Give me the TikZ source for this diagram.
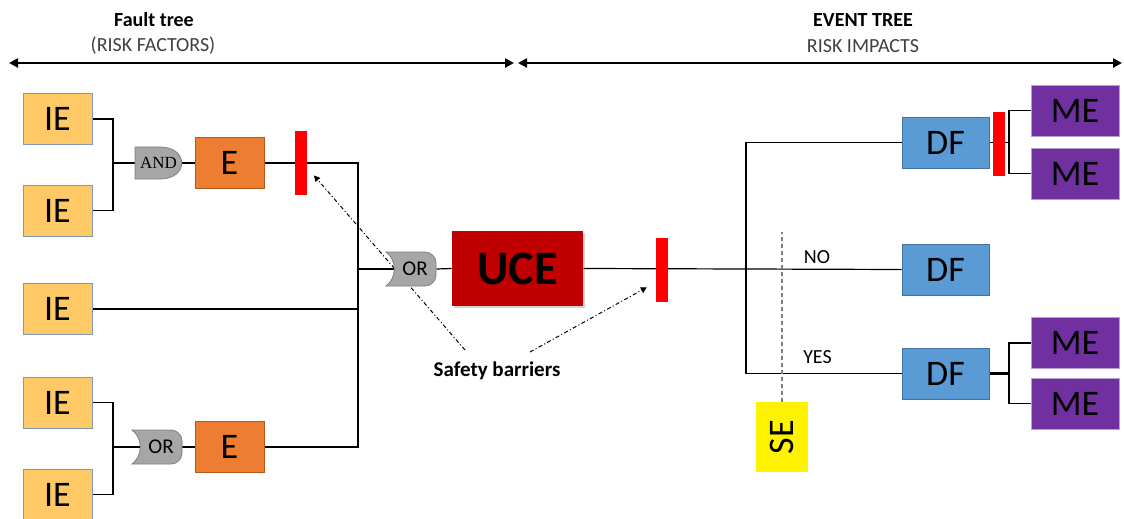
\documentclass[tikz,border=0pt]{standalone}
\usepackage{graphicx}
\usepackage{fontspec}
\setmainfont{Carlito}
\newfontfamily\gatefont{Liberation Serif}
\usetikzlibrary{arrows.meta, backgrounds, shadows, calc}

\definecolor{iefill}{HTML}{FFCA66}
\definecolor{ieline}{HTML}{7F9AB8}
\definecolor{efill}{HTML}{ED7D31}
\definecolor{eline}{HTML}{B15B1E}
\definecolor{ucefill}{HTML}{C00000}
\definecolor{dffill}{HTML}{5B9BD5}
\definecolor{dfline}{HTML}{41719C}
\definecolor{mefill}{HTML}{7030A0}
\definecolor{meline}{HTML}{B4A0CC}
\definecolor{gatefill}{HTML}{A6A6A6}
\definecolor{gateline}{HTML}{7F7F7F}
\definecolor{subgray}{HTML}{404040}

\begin{document}
\begin{tikzpicture}[
    x=0.5pt, y=-0.5pt,
    box/.style={
        rectangle,
        inner sep=0pt,
        minimum height=25.5pt,
        font=\fontsize{18}{18}\selectfont
    },
    ie/.style={box, fill=iefill, draw=ieline, line width=0.4pt, minimum width=34.5pt},
    ev/.style={box, fill=efill, draw=eline, line width=0.4pt, minimum width=34.5pt},
    df/.style={box, fill=dffill, draw=dfline, line width=0.4pt, minimum width=43.5pt},
    me/.style={box, fill=mefill, draw=meline, line width=0.4pt, minimum width=44pt},
    barrier/.style={rectangle, fill=red, inner sep=0pt, minimum width=6pt, minimum height=32pt},
    gatetext/.style={inner sep=0pt, minimum height=16.5pt, font=\fontsize{10.5}{10.5}\selectfont},
    gate/.style={fill=gatefill, draw=gateline, line width=0.4pt},
    link/.style={draw, line width=0.6pt},
    span/.style={{Triangle[length=4.5pt,width=4.5pt]}-{Triangle[length=4.5pt,width=4.5pt]}, line width=1.4pt},
    hint/.style={-{Triangle[length=3pt,width=3pt]}, line width=0.5pt,
        dash pattern=on 2pt off 1.2pt on 0.5pt off 1.2pt},
    heading/.style={font=\fontsize{10}{12}\selectfont\bfseries},
    subheading/.style={font=\fontsize{10}{12}\selectfont, text=subgray},
    branch/.style={font=\fontsize{10}{12}\selectfont}
]
\useasboundingbox (0,0) rectangle (1124,519);

% Headings
\node[heading] (ftname) at (154,20) {Fault tree};
\node[subheading] (ftsub) at (153,46) {(RISK FACTORS)};
\node[heading] (etname) at (863,20) {EVENT TREE};
\node[subheading] (etsub) at (863,46) {RISK IMPACTS};
\coordinate (ftleft) at (9,63);
\coordinate (ftright) at (514,63);
\coordinate (etleft) at (518,63);
\coordinate (etright) at (1122,63);
\draw[span] (ftleft) -- (ftright);
\draw[span] (etleft) -- (etright);

% Initiating events
\node[ie] (ie1) at (57.5,119) {IE};
\node[ie] (ie2) at (57.5,210.5) {IE};
\node[ie] (ie3) at (57.5,309) {IE};
\node[ie] (ie4) at (57.5,402.5) {IE};
\node[ie] (ie5) at (57.5,494.5) {IE};

% Gates (outlines drawn on the background)
\node[gatetext, minimum width=23.5pt, font=\gatefont\fontsize{8.5}{8.5}\selectfont] (and1) at (158.5,163) {AND};
\node[gatetext, minimum width=21pt] (or1) at (161,447) {OR};
\node[gatetext, minimum width=21pt] (or2) at (415,269) {OR};

% Intermediate events
\node[ev] (e1) at (229.5,163) {E};
\node[ev] (e2) at (229.5,447) {E};

% Top event
\node[box, fill=ucefill, minimum width=65.5pt, minimum height=37.5pt,
    font=\fontsize{24}{24}\selectfont\bfseries,
    drop shadow={shadow xshift=1pt, shadow yshift=-1pt, opacity=0.35}] (uce) at (517.5,268.5) {UCE};

% Safety barriers
\node[barrier] (bar1) at (301,163) {};
\node[barrier] (bar2) at (662,269.5) {};
\node[barrier] (bar3) at (999,144) {};
\node[heading, font=\fontsize{10.5}{12}\selectfont\bfseries] (safety) at (497,371) {Safety barriers};

% Consequences
\node[df] (df1) at (945.5,142.5) {DF};
\node[df] (df2) at (945.5,269.5) {DF};
\node[df] (df3) at (945.5,373.5) {DF};
\node[me] (me1) at (1075,110.5) {ME};
\node[me] (me2) at (1075,173.5) {ME};
\node[me] (me3) at (1075,343) {ME};
\node[me] (me4) at (1075,403.5) {ME};

% Secondary event
\node[box, fill=yellow, minimum width=26pt, minimum height=35pt] (se) at (782,437) {\rotatebox{90}{SE}};
\node[branch] (no) at (817,257) {NO};
\node[branch] (yes) at (817.5,357) {YES};

% Junctions
\coordinate (andin) at (113,163);
\coordinate (orin) at (113,447);
\coordinate (merge) at (358,269);
\coordinate (split) at (746,269);
\coordinate (mefork1) at (1009,142.5);
\coordinate (mefork2) at (1009,373.5);
\coordinate (setop) at (782,232);
\coordinate (hint1) at (465,350);
\coordinate (hint2) at (530,352);

\begin{pgfonlayer}{background}
% Fault tree links
\draw[link] (ie1.east) -| (andin);
\draw[link] (ie2.east) -| (andin);
\draw[link] (andin) -- (and1.west);
\draw[link] (and1.east) -- (e1.west);
\draw[link] (e1.east) -| (merge);
\draw[link] (ie3.east) -| (merge);
\draw[link] (ie4.east) -| (orin);
\draw[link] (ie5.east) -| (orin);
\draw[link] (orin) -- (or1.west);
\draw[link] (or1.east) -- (e2.west);
\draw[link] (e2.east) -| (merge);
\draw[link] (merge) -- (or2.west);
\draw[link] (or2.east) -- (uce.west);

% Event tree links
\draw[link] (uce.east) -- (split);
\draw[link] (split) |- (df1.west);
\draw[link] (split) -- (df2.west);
\draw[link] (split) |- (df3.west);
\draw[link] (df1.east) -- (mefork1);
\draw[link] (mefork1) |- (me1.west);
\draw[link] (mefork1) |- (me2.west);
\draw[link, line width=1.2pt] (df3.east) -- (mefork2);
\draw[link] (mefork2) |- (me3.west);
\draw[link] (mefork2) |- (me4.west);
\draw[link, gateline, dash pattern=on 2pt off 1.5pt] (se.north) -- (setop);

% Pointers to the barriers
\draw[hint, shorten >=5pt] (hint1) -- ($(bar1.east)!0.15!(bar1.south east)$);
\draw[hint, shorten >=5pt] (hint2) -- ($(bar2.west)!0.4!(bar2.south west)$);

% Gate outlines
\draw[gate] (135,147) -- (160,147) .. controls (189,147) and (189,179) .. (160,179) -- (135,179) -- cycle;
\draw[gate] (132,430) -- (171,430) .. controls (177,430) and (182,435) .. (182,441) -- (182,453)
    .. controls (182,459) and (177,464) .. (171,464) -- (132,464)
    .. controls (143,456) and (143,438) .. (132,430) -- cycle;
\draw[gate] (386,252) -- (425,252) .. controls (431,252) and (436,257) .. (436,263) -- (436,275)
    .. controls (436,281) and (431,286) .. (425,286) -- (386,286)
    .. controls (397,278) and (397,260) .. (386,252) -- cycle;
\end{pgfonlayer}

\end{tikzpicture}
\end{document}
